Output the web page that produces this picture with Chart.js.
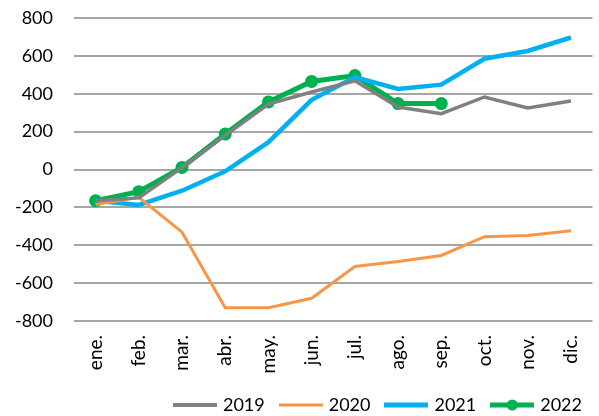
<!DOCTYPE html>
<html>
<head>
<meta charset="utf-8">
<script src="https://cdn.jsdelivr.net/npm/chart.js@4"></script>
<style>
  html, body { margin: 0; padding: 0; background: #fff; }
</style>
</head>
<body>
<canvas id="myChart" width="599" height="416"></canvas>
<script>
// datos
const meses = ["ene.", "feb.", "mar.", "abr.", "may.", "jun.", "jul.", "ago.", "sep.", "oct.", "nov.", "dic."];
const serie2019 = [-165, -150, 10, 180, 345, 409, 468, 330, 295, 383, 325, 362];
const serie2020 = [-185, -147, -331, -730, -730, -680, -512, -486, -454, -355, -348, -323];
const serie2021 = [-165, -187, -112, -10, 144, 368, 487, 425, 448, 585, 626, 697];
const serie2022 = [-165, -117, 11, 187, 357, 465, 496, 348, 348, null, null, null];

const colori = { c2019: "#808080", c2020: "#F79646", c2021: "#00B0F0", c2022: "#00B050" };

// icona legenda: linea (con punto se serve)
function iconaLegenda(colore, spessore, conPunto) {
    const c = document.createElement("canvas");
    c.width = 44;
    c.height = 14;
    const g = c.getContext("2d");
    g.strokeStyle = colore;
    g.lineWidth = spessore;
    g.beginPath();
    g.moveTo(0, 7);
    g.lineTo(44, 7);
    g.stroke();
    if (conPunto) {
        g.fillStyle = colore;
        g.beginPath();
        g.arc(22, 7, 5.5, 0, Math.PI * 2);
        g.fill();
    }
    return c;
}

const font = "Lato, 'Open Sans', sans-serif";

const ctx = document.getElementById('myChart').getContext('2d');
const myChart = new Chart(ctx, {
    type: 'line',
    data: {
        labels: meses,
        datasets: [
            { label: "2019", data: serie2019, borderColor: colori.c2019, borderWidth: 3.5, pointRadius: 0,
              pointStyle: iconaLegenda(colori.c2019, 4, false) },
            { label: "2020", data: serie2020, borderColor: colori.c2020, borderWidth: 3, pointRadius: 0,
              pointStyle: iconaLegenda(colori.c2020, 3, false) },
            { label: "2021", data: serie2021, borderColor: colori.c2021, borderWidth: 4.5, pointRadius: 0,
              pointStyle: iconaLegenda(colori.c2021, 5, false) },
            { label: "2022", data: serie2022, borderColor: colori.c2022, backgroundColor: colori.c2022,
              borderWidth: 5, pointRadius: 6.5, pointBackgroundColor: colori.c2022, pointBorderWidth: 0,
              pointStyle: 'circle' }
        ]
    },
    options: {
        responsive: false,
        animation: false,
        layout: { padding: { top: 18, right: 0, bottom: -8, left: 0 } },
        elements: { line: { tension: 0 } },
        plugins: {
            tooltip: { enabled: false },
            legend: {
                position: 'bottom',
                align: 'end',
                labels: {
                    usePointStyle: true,
                    pointStyleWidth: 38,
                    boxWidth: 38,
                    boxHeight: 14,
                    padding: 17,
                    color: "#000",
                    font: { family: font, size: 18 },
                    generateLabels: function(chart) {
                        return chart.data.datasets.map(function(ds, i) {
                            return {
                                text: ds.label,
                                datasetIndex: i,
                                pointStyle: i === 3 ? iconaLegenda(colori.c2022, 5, true) : ds.pointStyle,
                                fillStyle: ds.borderColor,
                                strokeStyle: ds.borderColor,
                                lineWidth: 0,
                                fontColor: "#000"
                            };
                        });
                    }
                }
            }
        },
        scales: {
            x: {
                offset: true,
                afterFit: function(scale) {
                    scale.height = 58;
                    scale.paddingLeft = 0;
                    scale.paddingRight = 0;
                },
                grid: { display: false, drawTicks: false },
                border: { display: false },
                ticks: {
                    minRotation: 90,
                    maxRotation: 90,
                    padding: 14,
                    color: "#000",
                    font: { family: font, size: 19 }
                }
            },
            y: {
                min: -800,
                max: 800,
                afterFit: function(scale) {
                    scale.width = 74;
                    scale.paddingTop = 0;
                    scale.paddingBottom = 0;
                },
                grid: { color: "#a6a6a6", lineWidth: 2, drawTicks: false },
                border: { display: false },
                ticks: {
                    stepSize: 200,
                    padding: 21,
                    color: "#000",
                    font: { family: font, size: 18 }
                }
            }
        }
    }
});
</script>
</body>
</html>
